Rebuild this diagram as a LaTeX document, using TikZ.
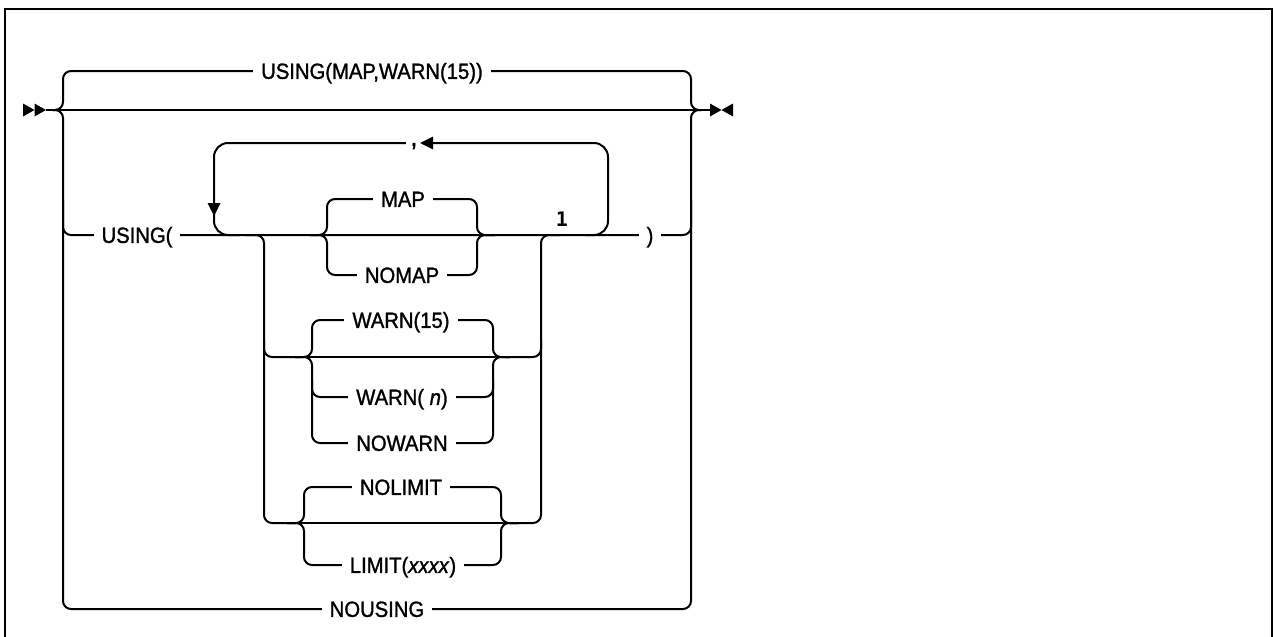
\documentclass[tikz,border=0pt]{standalone}
\usepackage{fontspec}
\setmainfont{Liberation Sans}
\newfontfamily\lblfont{Liberation Sans}[FakeStretch=0.92,FakeBold=1.3]
\newfontfamily\monofnt{DejaVu Sans Mono}
\begin{document}
\begin{tikzpicture}[x=1pt,y=-1pt,
  rail/.style={line width=2pt, rounded corners=8pt},
  loopline/.style={line width=2pt, rounded corners=14pt},
  lbl/.style={fill=white, inner xsep=8pt, inner ysep=0pt, text height=17pt, text depth=1.25pt, font=\lblfont\fontsize{22}{26}\selectfont},
  tipmark/.style={fill=black, draw=none},
  frameline/.style={line width=2.5pt}]
\useasboundingbox (0,0) rectangle (1274,637);
\draw[frameline] (5,645) -- (5,9) -- (1272,9) -- (1272,645);

% key coordinates
\coordinate (start) at (46,110);
\coordinate (stop) at (710,110);
\coordinate (bl) at (63,110);
\coordinate (br) at (691,110);

% main line
\draw[rail] (start) -- (stop);
\fill[tipmark] (23,103.5) -- (34.5,110) -- (23,116.5) -- cycle;
\fill[tipmark] (34.5,103.5) -- (46,110) -- (34.5,116.5) -- cycle;
\fill[tipmark] (stop) ++(0,-6.5) -- ++(11.5,6.5) -- ++(-11.5,6.5) -- cycle;
\fill[tipmark] (733,103.5) -- (721.5,110) -- (733,116.5) -- cycle;

% top branch (default)
\draw[rail] (53,110) -- (bl) -- (63,71) -- (691,71) -- (br) -- (701,110);
% bottom branch NOUSING
\draw[rail] (53,110) -- (bl) -- (63,609) -- (691,609) -- (br) -- (701,110);
% middle branch USING(
\draw[rail] (63,200) -- (63,235) -- (691,235) -- (691,200);

% repeat loop
\draw[loopline] (585,235) -- (608,235) -- (608,143) -- (214,143) -- (214,235) -- (240,235);
\fill[tipmark] (207.5,203) -- (220.5,203) -- (214,216) -- cycle;

% inner option column
\draw[rail] (245,235) -- (264,235) -- (264,523) -- (296,523);
\draw[rail] (264,340) -- (264,357) -- (300,357);
\draw[rail] (510,523) -- (541,523) -- (541,235) -- (560,235);
\draw[rail] (505,357) -- (541,357) -- (541,340);

% MAP group
\draw[rail] (310,235) -- (327,235) -- (327,199) -- (477,199) -- (477,235) -- (495,235);
\draw[rail] (310,235) -- (327,235) -- (327,275) -- (477,275) -- (477,235) -- (495,235);

% WARN group
\draw[line width=2pt] (290,357) -- (515,357);
\draw[rail] (295,357) -- (312,357) -- (312,320) -- (493,320) -- (493,357) -- (510,357);
\draw[rail] (295,357) -- (312,357) -- (312,443) -- (493,443) -- (493,357) -- (510,357);
\draw[rail] (312,380) -- (312,397) -- (493,397) -- (493,380);

% LIMIT group
\draw[line width=2pt] (285,523) -- (520,523);
\draw[rail] (287,523) -- (304,523) -- (304,487) -- (501,487) -- (501,523) -- (518,523);
\draw[rail] (287,523) -- (304,523) -- (304,565) -- (501,565) -- (501,523) -- (518,523);

% labels
\node[lbl] (tdef) at (372,71) {USING(MAP,WARN(15))};
\node[lbl] (tusing) at (137,235) {USING(};
\node[lbl] (tclose) at (650,235) {)};
\node[lbl] (tnousing) at (377,609) {NOUSING};
\node[lbl] (tmap) at (403,199) {MAP};
\node[lbl] (tnomap) at (402,275) {NOMAP};
\node[lbl] (twarn) at (401,320) {WARN(15)};
\node[lbl] (twarnn) at (402,397) {WARN( \textit{n})};
\node[lbl] (tnowarn) at (402,443) {NOWARN};
\node[lbl] (tnolimit) at (401,487) {NOLIMIT};
\node[lbl] (tlimit) at (403,565) {LIMIT(\textit{xxxx})};
\node[lbl, inner xsep=5pt, font=\lblfont\fontsize{26}{28}\selectfont] (tcomma) at (414,138) {,};
\fill[tipmark] (433,136.5) -- (433,149.5) -- (420,143) -- cycle;
\node[font=\monofnt\bfseries\fontsize{20}{22}\selectfont, inner sep=0pt] (tone) at (562,219) {1};
\end{tikzpicture}
\end{document}
